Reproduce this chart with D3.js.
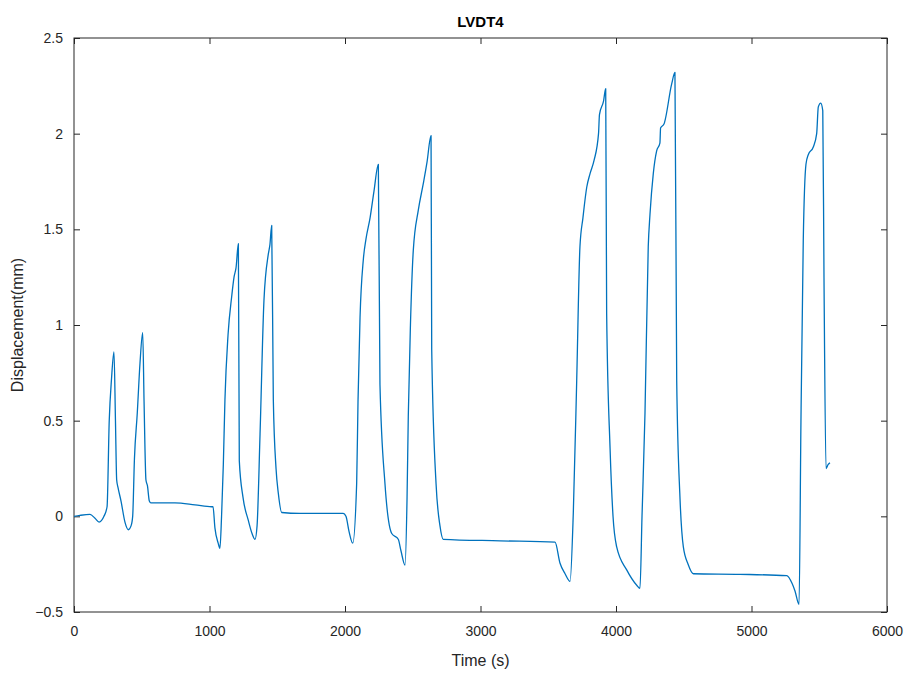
<!DOCTYPE html>
<html>
<head>
<meta charset="utf-8">
<script src="https://cdn.jsdelivr.net/npm/d3@7"></script>
<style>
  body { margin: 0; background: #fff; }
  svg text { font-family: Arial, "Liberation Sans", Helvetica, sans-serif; fill: #262626; }
</style>
</head>
<body>
<div id="svg_container"></div>
<script>
/* -----------------------
data
------------------------- */

var title = 'LVDT4';
var x_label = 'Time (s)';
var y_label = 'Displacement(mm)';

var x_ticks = [0, 1000, 2000, 3000, 4000, 5000, 6000];
var y_ticks = [-0.5, 0, 0.5, 1, 1.5, 2, 2.5];

// time (s) and displacement (mm)
var time = [0, 44, 118, 155, 185, 221, 244, 260, 277, 295, 306, 315, 325, 347, 376, 401,
  421, 433, 446, 467, 487, 507, 517, 531, 542, 556, 568, 745, 893, 1016,
  1026, 1040, 1064, 1077, 1089, 1102, 1114, 1137, 1164, 1181, 1196, 1213,
  1220, 1247, 1286, 1314, 1336, 1351, 1373, 1402, 1434, 1446, 1459,
  1471, 1491, 1508, 1533, 1668, 1987, 2007, 2030, 2057,
  2086, 2096, 2111, 2135, 2155, 2185, 2214, 2246,
  2258, 2295, 2345, 2393, 2413, 2443,
  2458, 2467, 2483, 2504, 2541, 2578, 2605, 2635,
  2640, 2672, 2701, 2725, 3144, 3550, 3587, 3624, 3661,
  3685, 3710, 3734, 3756, 3784, 3808, 3838, 3871, 3878, 3908, 3924,
  3931, 3956, 3978, 4005, 4079, 4153, 4177,
  4192, 4214, 4238, 4251, 4275, 4300, 4324, 4329, 4354, 4411, 4435,
  4448, 4472, 4497, 4532, 4571, 4915, 5260, 5299, 5321, 5351,
  5365, 5382, 5402, 5419, 5456, 5481, 5493, 5511, 5526,
  5535, 5550, 5565, 5579];
var disp = [0, 0.005, 0.01, -0.01, -0.03, 0, 0.05, 0.50, 0.72, 0.86, 0.50, 0.19, 0.15, 0.08, -0.03, -0.07,
  -0.05, 0, 0.30, 0.54, 0.80, 0.96, 0.60, 0.19, 0.16, 0.08, 0.07, 0.07, 0.06, 0.05,
  0.05, -0.06, -0.14, -0.167, 0, 0.27, 0.61, 0.95, 1.15, 1.25, 1.30, 1.425,
  0.29, 0.10, -0.02, -0.09, -0.12, -0.05, 0.43, 1.13, 1.37, 1.42, 1.52,
  0.61, 0.25, 0.12, 0.02, 0.015, 0.015, 0, -0.08, -0.14,
  0.17, 0.60, 1.04, 1.34, 1.45, 1.56, 1.70, 1.84,
  0.69, 0.17, -0.09, -0.12, -0.18, -0.255,
  0.10, 0.52, 1.00, 1.39, 1.60, 1.74, 1.85, 1.99,
  0.87, 0.17, -0.05, -0.12, -0.128, -0.135, -0.245, -0.30, -0.34,
  0.02, 0.71, 1.41, 1.56, 1.72, 1.79, 1.86, 2.00, 2.10, 2.17, 2.235,
  1.06, 0.36, 0, -0.16, -0.28, -0.36, -0.376,
  0, 0.54, 1.41, 1.58, 1.79, 1.91, 1.95, 2.03, 2.05, 2.26, 2.32,
  0.71, 0.10, -0.16, -0.25, -0.30, -0.303, -0.31, -0.35, -0.39, -0.46,
  0.50, 1.44, 1.84, 1.89, 1.93, 2.00, 2.14, 2.16, 2.12,
  1.25, 0.25, 0.27, 0.28];

var data = time.map(function (t, i) { return {t: t, v: disp[i]}; });

/* -----------------------
main variables
------------------------- */

var width = 911,
height = 673;

var margin = {top: 38, right: 24, bottom: 61, left: 74};
var plot_w = width - margin.left - margin.right,
plot_h = height - margin.top - margin.bottom;

var tick_len = 6;
var c_line = '#0072BD',
c_axis = '#262626';

/* -----------------------
set plot
------------------------- */

var svg = d3.select('#svg_container')
  .append('svg')
  .attr('width', width)
  .attr('height', height);

var plot = svg.append('g')
  .attr('transform', 'translate(' + margin.left + ',' + margin.top + ')');

var x = d3.scaleLinear().domain([0, 6000]).range([0, plot_w]);
var y = d3.scaleLinear().domain([-0.5, 2.5]).range([plot_h, 0]);

/* -----------------------
axes (ticks inside, mirrored)
------------------------- */

plot.append('g')
  .attr('transform', 'translate(0,' + plot_h + ')')
  .call(d3.axisBottom(x).tickValues(x_ticks).tickSizeInner(-tick_len).tickSizeOuter(0).tickPadding(14)
    .tickFormat(d3.format('d')))
  .call(function (g) { g.select('.domain').remove(); })
  .call(function (g) { g.selectAll('text').attr('font-size', '14px').attr('fill', c_axis); });

plot.append('g')
  .call(d3.axisTop(x).tickValues(x_ticks).tickSizeInner(-tick_len).tickSizeOuter(0).tickFormat(''))
  .call(function (g) { g.select('.domain').remove(); });

plot.append('g')
  .call(d3.axisLeft(y).tickValues(y_ticks).tickSizeInner(-tick_len).tickSizeOuter(0).tickPadding(11)
    .tickFormat(function (d) { return d3.format('')(d); }))
  .call(function (g) { g.select('.domain').remove(); })
  .call(function (g) { g.selectAll('text').attr('font-size', '14px').attr('fill', c_axis); });

plot.append('g')
  .attr('transform', 'translate(' + plot_w + ',0)')
  .call(d3.axisRight(y).tickValues(y_ticks).tickSizeInner(-tick_len).tickSizeOuter(0).tickFormat(''))
  .call(function (g) { g.select('.domain').remove(); });

plot.selectAll('.tick line').attr('stroke', c_axis);

// box
plot.append('rect')
  .attr('x', 0)
  .attr('y', 0)
  .attr('width', plot_w)
  .attr('height', plot_h)
  .attr('fill', 'none')
  .attr('stroke', c_axis)
  .attr('stroke-width', 1);

/* -----------------------
line
------------------------- */

var line = d3.line()
  .curve(d3.curveMonotoneX)
  .x(function (d) { return x(d.t); })
  .y(function (d) { return y(d.v); });

plot.append('path')
  .datum(data)
  .attr('d', line)
  .attr('fill', 'none')
  .attr('stroke', c_line)
  .attr('stroke-width', 1.3)
  .attr('stroke-linejoin', 'round');

/* -----------------------
labels
------------------------- */

svg.append('text')
  .attr('x', margin.left + plot_w / 2)
  .attr('y', 27)
  .attr('text-anchor', 'middle')
  .attr('font-size', '15px')
  .attr('font-weight', 'bold')
  .style('fill', '#000')
  .text(title);

svg.append('text')
  .attr('x', margin.left + plot_w / 2)
  .attr('y', 666)
  .attr('text-anchor', 'middle')
  .attr('font-size', '16px')
  .text(x_label);

svg.append('text')
  .attr('transform', 'translate(23,' + (margin.top + plot_h / 2) + ') rotate(-90)')
  .attr('text-anchor', 'middle')
  .attr('font-size', '16px')
  .text(y_label);
</script>
</body>
</html>
